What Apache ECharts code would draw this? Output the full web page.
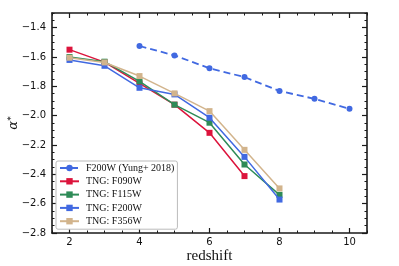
<!DOCTYPE html>
<html><head><meta charset="utf-8">
<script src="https://cdn.jsdelivr.net/npm/echarts@6/dist/echarts.min.js"></script>
<style>html,body{margin:0;padding:0;background:#fff}#c{width:399px;height:266px}</style>
</head><body><div id="c"></div>
<script>
// ---- data ----
const tngZ = [2, 3, 4, 5, 6, 7, 8];
const yungZ = [4, 5, 6, 7, 8, 9, 10];
const yungAlpha = [-1.525, -1.589, -1.677, -1.737, -1.832, -1.885, -1.953];
const f090w = [-1.55, -1.635, -1.78, -1.925, -2.117, -2.412];
const f115w = [-1.60, -1.632, -1.766, -1.925, -2.048, -2.333, -2.540];
const f200w = [-1.62, -1.660, -1.810, -1.855, -2.014, -2.281, -2.572];
const f356w = [-1.605, -1.637, -1.730, -1.848, -1.969, -2.233, -2.496];
const xTicks = [2, 4, 6, 8, 10];
const yTicks = [-2.8, -2.6, -2.4, -2.2, -2.0, -1.8, -1.6, -1.4];
const names = ['F200W (Yung+ 2018)', 'TNG: F090W', 'TNG: F115W', 'TNG: F200W', 'TNG: F356W'];
const colors = ['#4169E1', '#DC143C', '#2E8B57', '#4169E1', '#D2B48C'];

const pair = (xs, ys) => ys.map((v, i) => [xs[i], v]);
const axCol = '#1a1a1a';
const tickFont = { fontFamily: 'DejaVu Sans', fontSize: 10, color: '#111' };

function xAx(pos, major, labels) {
  return {
    type: 'value', position: pos, min: 1.5, max: 10.5,
    interval: major ? undefined : 0.5,
    axisLine: { show: major, onZero: false, lineStyle: { color: axCol, width: 1.6 } },
    axisTick: major ? { show: true, inside: true, length: 5, customValues: xTicks, lineStyle: { color: axCol, width: 1.2 } }
                    : { show: true, inside: true, length: 2.5, lineStyle: { color: axCol, width: 1 } },
    axisLabel: labels ? Object.assign({ show: true, customValues: xTicks, margin: 4 }, tickFont) : { show: false },
    splitLine: { show: false }
  };
}
function yAx(pos, major, labels) {
  return {
    type: 'value', position: pos, min: -2.8, max: -1.3,
    interval: major ? undefined : 0.05,
    axisLine: { show: major, onZero: false, lineStyle: { color: axCol, width: 1.6 } },
    axisTick: major ? { show: true, inside: true, length: 5, customValues: yTicks, lineStyle: { color: axCol, width: 1.2 } }
                    : { show: true, inside: true, length: 2.5, lineStyle: { color: axCol, width: 1 } },
    axisLabel: labels ? Object.assign({ show: true, customValues: yTicks, margin: 6,
      formatter: v => v.toFixed(1).replace('-', '\u2212') }, tickFont) : { show: false },
    splitLine: { show: false }
  };
}

const xAxes = [xAx('bottom', true, true), xAx('bottom', false, false), xAx('top', true, false), xAx('top', false, false)];
xAxes[0].name = 'redshift';
xAxes[0].nameLocation = 'middle';
xAxes[0].nameGap = 16;
xAxes[0].nameMoveOverlap = false;
xAxes[0].nameTextStyle = { fontFamily: 'Liberation Serif', fontSize: 15, color: '#111' };
const yAxes = [yAx('left', true, true), yAx('left', false, false), yAx('right', true, false), yAx('right', false, false)];
yAxes[0].name = '{a|α}{s|*}';
yAxes[0].nameLocation = 'middle';
yAxes[0].nameGap = 31;
yAxes[0].nameRotate = 90;
yAxes[0].nameMoveOverlap = false;
yAxes[0].nameTextStyle = { rich: {
  a: { fontFamily: 'DejaVu Serif', fontStyle: 'italic', fontSize: 13, color: '#111', lineHeight: 14 },
  s: { fontFamily: 'DejaVu Sans', fontSize: 9, color: '#111', lineHeight: 14, verticalAlign: 'top' } } };

const tngSets = [f090w, f115w, f200w, f356w];
const series = [{
  name: names[0], type: 'line', xAxisIndex: 0, yAxisIndex: 0,
  data: pair(yungZ, yungAlpha), symbol: 'circle', symbolSize: 6,
  itemStyle: { color: colors[0] },
  lineStyle: { color: colors[0], width: 1.8, type: [7, 4] }, z: 2
}].concat(tngSets.map((d, i) => ({
  name: names[i + 1], type: 'line', xAxisIndex: 0, yAxisIndex: 0,
  data: pair(tngZ, d), symbol: 'rect', symbolSize: 6,
  itemStyle: { color: colors[i + 1] },
  lineStyle: { color: colors[i + 1], width: 1.5 }, z: 3 + i
})));

const chart = echarts.init(document.getElementById('c'), null, { renderer: 'canvas' });
chart.setOption({
  animation: false,
  backgroundColor: '#fff',
  grid: { left: 52, right: 32, top: 13, bottom: 33, containLabel: false, outerBoundsMode: 'none' },
  xAxis: xAxes,
  yAxis: yAxes,
  legend: {
    data: names, orient: 'vertical', left: 56, top: 161,
    itemWidth: 19, itemHeight: 8, itemGap: 3.3,
    padding: [2, 3, 3, 3],
    borderColor: '#bbb', borderWidth: 1, borderRadius: 2,
    backgroundColor: '#fff',
    textStyle: { fontFamily: 'Liberation Serif', fontSize: 10, lineHeight: 10, color: '#111', padding: [0, 0, 0, 2] }
  },
  series: series
});
</script></body></html>
